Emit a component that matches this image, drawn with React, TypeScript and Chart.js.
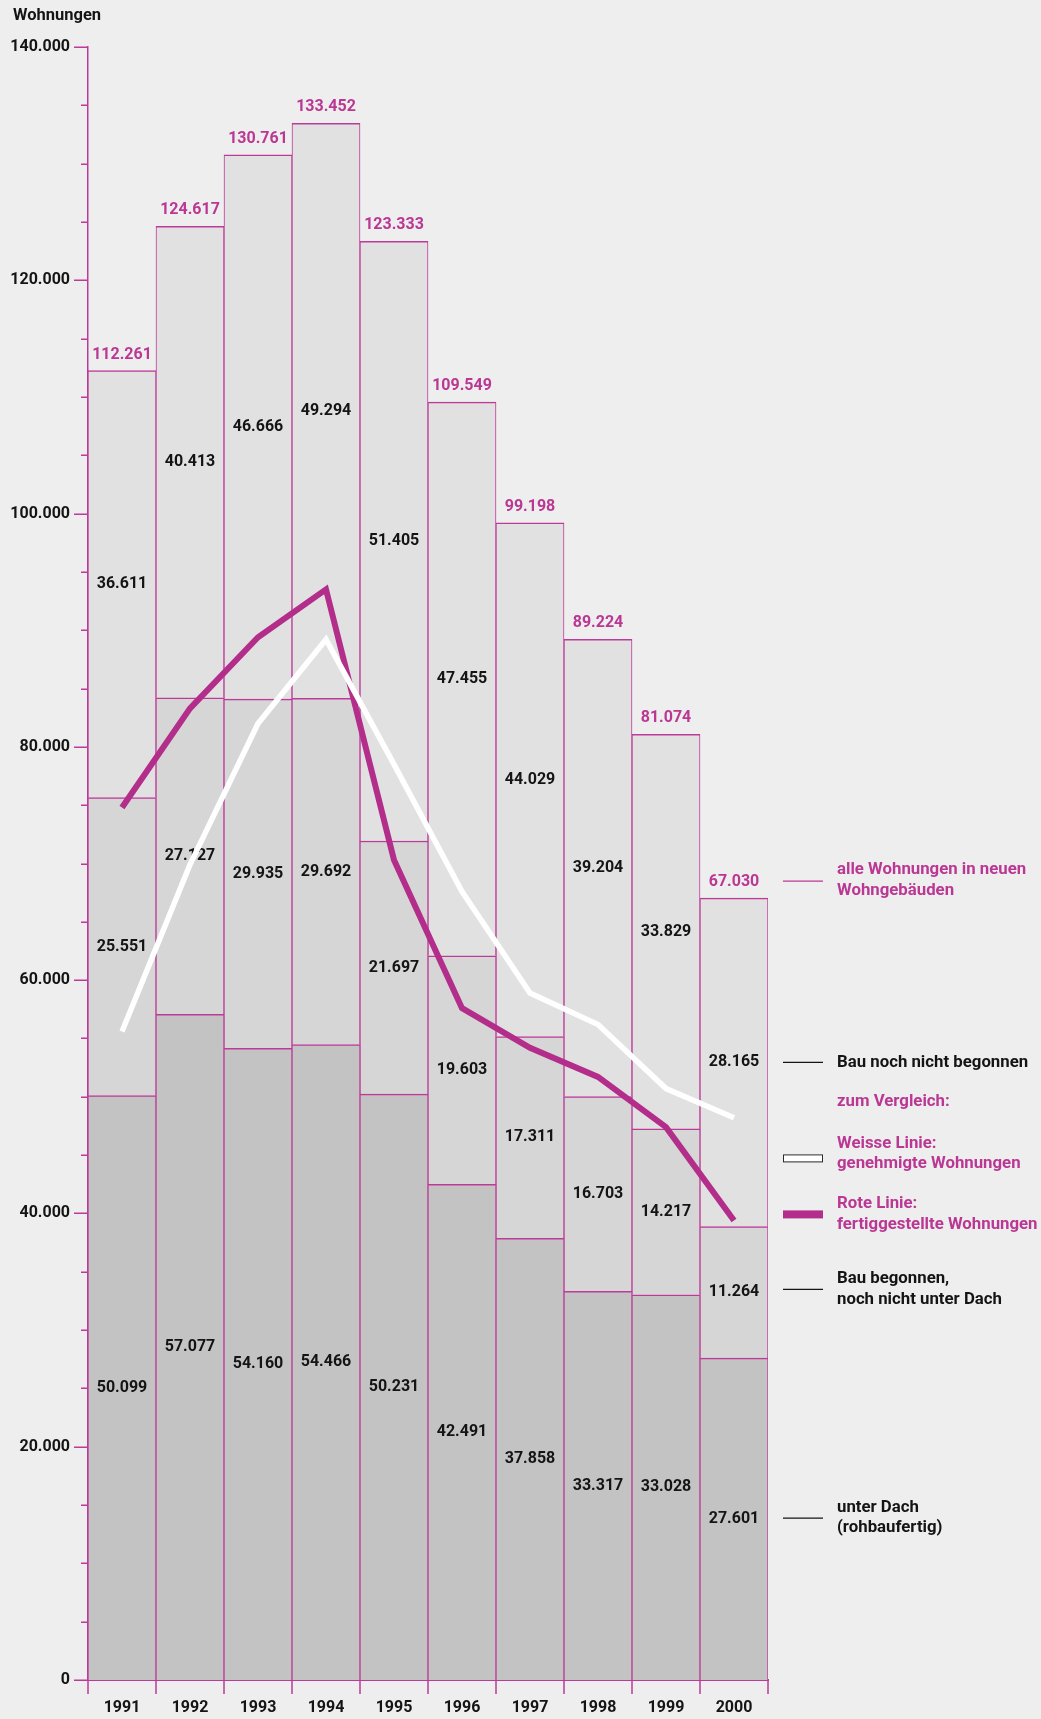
import { useEffect, useRef } from 'react';
import { Chart, registerables } from 'chart.js';

Chart.register(...registerables);

// Jahre
const years = ['1991', '1992', '1993', '1994', '1995', '1996', '1997', '1998', '1999', '2000'];

// Bauüberhang nach Baufortschritt (Wohnungen)
const unterDach = [50099, 57077, 54160, 54466, 50231, 42491, 37858, 33317, 33028, 27601];
const begonnen = [25551, 27127, 29935, 29692, 21697, 19603, 17311, 16703, 14217, 11264];
const nichtBegonnen = [36611, 40413, 46666, 49294, 51405, 47455, 44029, 39204, 33829, 28165];

// Vergleichslinien
const fertiggestellt = [74800, 83300, 89400, 93500, 70300, 57600, 54200, 51700, 47400, 39400];
const genehmigt = [55600, 69900, 82000, 89200, 78500, 67600, 58900, 56200, 50700, 48200];

// Achse
const yMax = 140000;
const yMinorStep = 5000;
const yMajorStep = 20000;

const MAGENTA = '#b32d8a';
const MAGENTA_TEXT = '#bb3794';
const BORDER = '#bd3a98';
const BLACK = '#141414';
const FONT = 'Roboto, "Open Sans", sans-serif';
const WEIGHT = 'bold';

const fmt = (n: number) => String(Math.round(n)).replace(/\B(?=(\d{3})+(?!\d))/g, '.');

const overlayPlugin = {
  id: 'overlay',
  beforeDatasetDraw(chart: any, args: any) {
    // Zahlen in den Balken und Summen darüber, vor den Linien gezeichnet
    if (args.index !== 3) return;
    const ctx = chart.ctx;
    ctx.save();
    ctx.textAlign = 'center';
    ctx.textBaseline = 'middle';
    ctx.font = `${WEIGHT} 16px ${FONT}`;
    ctx.fillStyle = BLACK;
    for (let d = 0; d < 3; d++) {
      const meta = chart.getDatasetMeta(d);
      const values = chart.data.datasets[d].data as number[];
      meta.data.forEach((el: any, i: number) => {
        ctx.fillText(fmt(values[i]), el.x, (el.y + el.base) / 2);
      });
    }
    const topMeta = chart.getDatasetMeta(2);
    ctx.fillStyle = MAGENTA_TEXT;
    topMeta.data.forEach((el: any, i: number) => {
      const total = unterDach[i] + begonnen[i] + nichtBegonnen[i];
      ctx.fillText(fmt(total), el.x, el.y - 16);
    });
    ctx.restore();
  },
  afterDraw(chart: any) {
    const ctx = chart.ctx;
    const ys = chart.scales.y;
    const area = chart.chartArea;
    ctx.save();

    // Teilstriche der y-Achse
    ctx.strokeStyle = BORDER;
    ctx.lineWidth = 1.5;
    for (let v = 0; v <= yMax; v += yMinorStep) {
      const y = Math.round(ys.getPixelForValue(v)) + 0.25;
      const len = v % yMajorStep === 0 ? 14 : 7;
      ctx.beginPath();
      ctx.moveTo(area.left - len, y);
      ctx.lineTo(area.left, y);
      ctx.stroke();
    }

    // Teilstriche der x-Achse an den Balkengrenzen
    const meta0 = chart.getDatasetMeta(0);
    const edges: number[] = [];
    meta0.data.forEach((el: any) => edges.push(el.x - el.width / 2));
    const lastEl: any = meta0.data[meta0.data.length - 1];
    edges.push(lastEl.x + lastEl.width / 2);
    edges.forEach((x) => {
      ctx.beginPath();
      ctx.moveTo(x, area.bottom);
      ctx.lineTo(x, area.bottom + 14);
      ctx.stroke();
    });

    // Achsentitel
    ctx.fillStyle = BLACK;
    ctx.font = `${WEIGHT} 16.5px ${FONT}`;
    ctx.textAlign = 'left';
    ctx.textBaseline = 'middle';
    ctx.fillText('Wohnungen', 13, 16);

    // Beschriftung rechts neben dem Balken 2000
    ctx.font = `${WEIGHT} 16.8px ${FONT}`;
    const last = years.length - 1;
    const elBottom: any = chart.getDatasetMeta(0).data[last];
    const elMid: any = chart.getDatasetMeta(1).data[last];
    const elTop: any = chart.getDatasetMeta(2).data[last];
    const x1 = area.right + 15;
    const x2 = area.right + 55;
    const tx = area.right + 69;
    const lh = 20.5;

    const connector = (y: number, color: string) => {
      ctx.strokeStyle = color;
      ctx.lineWidth = 1.2;
      ctx.beginPath();
      ctx.moveTo(x1, y);
      ctx.lineTo(x2, y);
      ctx.stroke();
    };
    const textBlock = (lines: string[], yCenter: number, color: string) => {
      ctx.fillStyle = color;
      const start = yCenter - ((lines.length - 1) * lh) / 2;
      lines.forEach((t, k) => ctx.fillText(t, tx, start + k * lh));
    };

    const yAll = elTop.y - 17;
    connector(yAll, MAGENTA_TEXT);
    textBlock(['alle Wohnungen in neuen', 'Wohngebäuden'], yAll - 1, MAGENTA_TEXT);

    const yNicht = (elTop.y + elTop.base) / 2;
    connector(yNicht, BLACK);
    textBlock(['Bau noch nicht begonnen'], yNicht, BLACK);

    textBlock(['zum Vergleich:'], yNicht + 39, MAGENTA_TEXT);

    // Linie weiß
    ctx.fillStyle = '#ffffff';
    ctx.fillRect(x1, yNicht + 92, x2 - x1, 7);
    ctx.strokeStyle = '#2a2a2a';
    ctx.lineWidth = 1;
    ctx.strokeRect(x1 + 0.5, yNicht + 92 + 0.5, x2 - x1 - 1, 7);
    textBlock(['Weisse Linie:', 'genehmigte Wohnungen'], yNicht + 91.5, MAGENTA_TEXT);

    // Linie magenta
    ctx.fillStyle = MAGENTA;
    ctx.fillRect(x1, yNicht + 148, x2 - x1, 8);
    textBlock(['Rote Linie:', 'fertiggestellte Wohnungen'], yNicht + 152, MAGENTA_TEXT);

    const yMid = (elMid.y + elMid.base) / 2 - 3;
    connector(yMid, BLACK);
    textBlock(['Bau begonnen,', 'noch nicht unter Dach'], yMid, BLACK);

    const yBot = (elBottom.y + elBottom.base) / 2 - 1;
    connector(yBot, BLACK);
    textBlock(['unter Dach', '(rohbaufertig)'], yBot, BLACK);

    ctx.restore();
  },
};

export default function App() {
  const canvasRef = useRef<HTMLCanvasElement | null>(null);

  useEffect(() => {
    const canvas = canvasRef.current;
    if (!canvas) return;
    const barCommon = {
      type: 'bar' as const,
      borderColor: BORDER,
      borderWidth: { top: 1.5, bottom: 0, left: 1, right: 1 },
      borderSkipped: false,
      barPercentage: 1,
      categoryPercentage: 1,
      stack: 'bestand',
      order: 2,
    };
    const chart = new Chart(canvas, {
      type: 'bar',
      data: {
        labels: years,
        datasets: [
          { ...barCommon, label: 'unter Dach (rohbaufertig)', data: unterDach, backgroundColor: '#c3c3c3' },
          { ...barCommon, label: 'Bau begonnen, noch nicht unter Dach', data: begonnen, backgroundColor: '#d6d6d6' },
          { ...barCommon, label: 'Bau noch nicht begonnen', data: nichtBegonnen, backgroundColor: '#e1e1e1' },
          {
            type: 'line',
            label: 'fertiggestellte Wohnungen',
            data: fertiggestellt,
            stack: 'fertiggestellt',
            borderColor: MAGENTA,
            borderWidth: 6,
            pointRadius: 0,
            tension: 0,
            borderJoinStyle: 'miter',
            borderCapStyle: 'butt',
            order: 1,
          } as any,
          {
            type: 'line',
            label: 'genehmigte Wohnungen',
            data: genehmigt,
            stack: 'genehmigt',
            borderColor: '#ffffff',
            borderWidth: 5.5,
            pointRadius: 0,
            tension: 0,
            borderJoinStyle: 'miter',
            borderCapStyle: 'butt',
            order: 0,
          } as any,
        ],
      },
      options: {
        responsive: false,
        animation: false,
        layout: { padding: { top: 47, right: 273, left: 0, bottom: 0 } },
        plugins: {
          legend: { display: false },
          tooltip: { enabled: false },
        },
        scales: {
          x: {
            stacked: true,
            offset: true,
            grid: { display: false, drawTicks: false },
            border: { display: true, color: BORDER, width: 2 },
            ticks: {
              color: BLACK,
              font: { family: FONT, size: 16, weight: WEIGHT as any },
              padding: 18,
              maxRotation: 0,
              autoSkip: false,
            },
            afterFit: (s: any) => {
              s.height = 39;
            },
          },
          y: {
            stacked: true,
            min: 0,
            max: yMax,
            grid: { display: false, drawTicks: false },
            border: { display: true, color: BORDER, width: 1.5 },
            ticks: {
              stepSize: yMinorStep,
              autoSkip: false,
              color: BLACK,
              font: { family: FONT, size: 16, weight: WEIGHT as any },
              padding: 18,
              callback: (v: any) => (Number(v) % yMajorStep === 0 ? fmt(Number(v)) : ''),
            },
            afterFit: (s: any) => {
              s.width = 88;
            },
          },
        },
      },
      plugins: [overlayPlugin],
    });
    return () => chart.destroy();
  }, []);

  return (
    <div
      style={{
        position: 'absolute',
        left: 0,
        top: 0,
        width: 1041,
        height: 1719,
        background: '#eeeeee',
      }}
    >
      <canvas ref={canvasRef} width={1041} height={1719} />
    </div>
  );
}
